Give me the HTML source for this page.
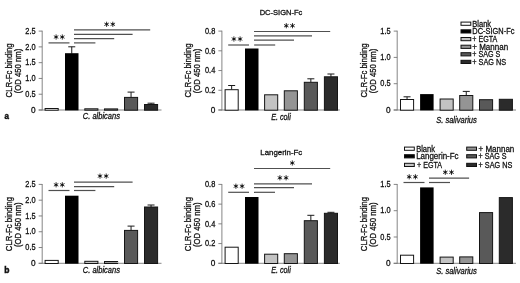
<!DOCTYPE html>
<html><head><meta charset="utf-8"><title>Figure</title>
<style>
html,body{margin:0;padding:0;background:#fff;}
body{width:520px;height:283px;overflow:hidden;}
svg{display:block;font-family:"Liberation Sans",sans-serif;filter:grayscale(1);}
</style></head><body>
<svg width="520" height="283" viewBox="0 0 520 283">
<rect width="520" height="283" fill="#fff"/>
<line x1="42.2" y1="30.700000000000003" x2="42.2" y2="110.4" stroke="#707070" stroke-width="0.85"/>
<line x1="38.7" y1="110.0" x2="161.5" y2="110.0" stroke="#707070" stroke-width="0.85"/>
<line x1="38.7" y1="110.0" x2="42.2" y2="110.0" stroke="#707070" stroke-width="0.85"/>
<text x="35.6" y="112.75" font-size="8.8" text-anchor="end" textLength="4.6" lengthAdjust="spacingAndGlyphs" fill="#111" stroke="#111" stroke-width="0.3">0</text>
<line x1="38.7" y1="94.22" x2="42.2" y2="94.22" stroke="#707070" stroke-width="0.85"/>
<text x="35.6" y="96.97" font-size="8.8" text-anchor="end" textLength="10.3" lengthAdjust="spacingAndGlyphs" fill="#111" stroke="#111" stroke-width="0.3">0.5</text>
<line x1="38.7" y1="78.44" x2="42.2" y2="78.44" stroke="#707070" stroke-width="0.85"/>
<text x="35.6" y="81.19" font-size="8.8" text-anchor="end" textLength="10.3" lengthAdjust="spacingAndGlyphs" fill="#111" stroke="#111" stroke-width="0.3">1.0</text>
<line x1="38.7" y1="62.66" x2="42.2" y2="62.66" stroke="#707070" stroke-width="0.85"/>
<text x="35.6" y="65.41" font-size="8.8" text-anchor="end" textLength="10.3" lengthAdjust="spacingAndGlyphs" fill="#111" stroke="#111" stroke-width="0.3">1.5</text>
<line x1="38.7" y1="46.879999999999995" x2="42.2" y2="46.879999999999995" stroke="#707070" stroke-width="0.85"/>
<text x="35.6" y="49.629999999999995" font-size="8.8" text-anchor="end" textLength="10.3" lengthAdjust="spacingAndGlyphs" fill="#111" stroke="#111" stroke-width="0.3">2.0</text>
<line x1="38.7" y1="31.099999999999994" x2="42.2" y2="31.099999999999994" stroke="#707070" stroke-width="0.85"/>
<text x="35.6" y="33.849999999999994" font-size="8.8" text-anchor="end" textLength="10.3" lengthAdjust="spacingAndGlyphs" fill="#111" stroke="#111" stroke-width="0.3">2.5</text>
<rect x="45.1" y="108.5" width="13.1" height="1.7" fill="#ffffff" stroke="#151515" stroke-width="1"/>
<line x1="71.75" y1="46.8" x2="71.75" y2="53.7" stroke="#1a1a1a" stroke-width="1.0"/>
<line x1="68.25" y1="46.8" x2="75.25" y2="46.8" stroke="#1a1a1a" stroke-width="1.0"/>
<rect x="65.0" y="53.2" width="13.5" height="57.199999999999996" fill="#000"/>
<rect x="84.8" y="108.8" width="13.1" height="1.4000000000000028" fill="#c3c3c3" stroke="#151515" stroke-width="1"/>
<rect x="104.5" y="108.9" width="13.1" height="1.2999999999999943" fill="#949494" stroke="#151515" stroke-width="1"/>
<line x1="131.05" y1="92.1" x2="131.05" y2="97.4" stroke="#1a1a1a" stroke-width="1.0"/>
<line x1="127.55000000000001" y1="92.1" x2="134.55" y2="92.1" stroke="#1a1a1a" stroke-width="1.0"/>
<rect x="124.5" y="97.4" width="13.1" height="12.799999999999994" fill="#595959" stroke="#151515" stroke-width="1"/>
<line x1="151.05" y1="103.2" x2="151.05" y2="104.5" stroke="#1a1a1a" stroke-width="1.0"/>
<line x1="147.55" y1="103.2" x2="154.55" y2="103.2" stroke="#1a1a1a" stroke-width="1.0"/>
<rect x="144.5" y="104.5" width="13.1" height="5.7" fill="#2b2b2b" stroke="#151515" stroke-width="1"/>
<text x="101.4" y="119.0" font-size="9" text-anchor="middle" font-style="italic" textLength="37.2" lengthAdjust="spacingAndGlyphs" fill="#111" stroke="#111" stroke-width="0.3">C. albicans</text>
<text x="11.8" y="70.4" font-size="8.2" text-anchor="middle" transform="rotate(-90 11.8 70.4)" textLength="54.2" lengthAdjust="spacingAndGlyphs" fill="#111" stroke="#111" stroke-width="0.3">CLR-Fc binding</text>
<text x="20.700000000000003" y="71.0" font-size="8.2" text-anchor="middle" transform="rotate(-90 20.700000000000003 71.0)" textLength="44.5" lengthAdjust="spacingAndGlyphs" fill="#111" stroke="#111" stroke-width="0.3">(OD 450 nm)</text>
<line x1="221.9" y1="30.700000000000003" x2="221.9" y2="110.4" stroke="#707070" stroke-width="0.85"/>
<line x1="218.4" y1="110.0" x2="339.8" y2="110.0" stroke="#707070" stroke-width="0.85"/>
<line x1="218.4" y1="110.0" x2="221.9" y2="110.0" stroke="#707070" stroke-width="0.85"/>
<text x="215.3" y="112.75" font-size="8.8" text-anchor="end" textLength="4.6" lengthAdjust="spacingAndGlyphs" fill="#111" stroke="#111" stroke-width="0.3">0</text>
<line x1="218.4" y1="90.275" x2="221.9" y2="90.275" stroke="#707070" stroke-width="0.85"/>
<text x="215.3" y="93.025" font-size="8.8" text-anchor="end" textLength="10.3" lengthAdjust="spacingAndGlyphs" fill="#111" stroke="#111" stroke-width="0.3">0.2</text>
<line x1="218.4" y1="70.55" x2="221.9" y2="70.55" stroke="#707070" stroke-width="0.85"/>
<text x="215.3" y="73.3" font-size="8.8" text-anchor="end" textLength="10.3" lengthAdjust="spacingAndGlyphs" fill="#111" stroke="#111" stroke-width="0.3">0.4</text>
<line x1="218.4" y1="50.824999999999996" x2="221.9" y2="50.824999999999996" stroke="#707070" stroke-width="0.85"/>
<text x="215.3" y="53.574999999999996" font-size="8.8" text-anchor="end" textLength="10.3" lengthAdjust="spacingAndGlyphs" fill="#111" stroke="#111" stroke-width="0.3">0.6</text>
<line x1="218.4" y1="31.099999999999994" x2="221.9" y2="31.099999999999994" stroke="#707070" stroke-width="0.85"/>
<text x="215.3" y="33.849999999999994" font-size="8.8" text-anchor="end" textLength="10.3" lengthAdjust="spacingAndGlyphs" fill="#111" stroke="#111" stroke-width="0.3">0.8</text>
<line x1="231.65" y1="85.5" x2="231.65" y2="89.7" stroke="#1a1a1a" stroke-width="1.0"/>
<line x1="228.15" y1="85.5" x2="235.15" y2="85.5" stroke="#1a1a1a" stroke-width="1.0"/>
<rect x="225.1" y="89.7" width="13.1" height="20.499999999999996" fill="#ffffff" stroke="#151515" stroke-width="1"/>
<rect x="245.0" y="48.5" width="13.5" height="61.9" fill="#000"/>
<rect x="264.6" y="94.8" width="13.1" height="15.400000000000002" fill="#c3c3c3" stroke="#151515" stroke-width="1"/>
<rect x="284.3" y="90.8" width="13.1" height="19.400000000000002" fill="#949494" stroke="#151515" stroke-width="1"/>
<line x1="310.85" y1="78.8" x2="310.85" y2="82.3" stroke="#1a1a1a" stroke-width="1.0"/>
<line x1="307.35" y1="78.8" x2="314.35" y2="78.8" stroke="#1a1a1a" stroke-width="1.0"/>
<rect x="304.3" y="82.3" width="13.1" height="27.900000000000002" fill="#595959" stroke="#151515" stroke-width="1"/>
<line x1="330.95" y1="74.0" x2="330.95" y2="76.8" stroke="#1a1a1a" stroke-width="1.0"/>
<line x1="327.45" y1="74.0" x2="334.45" y2="74.0" stroke="#1a1a1a" stroke-width="1.0"/>
<rect x="324.4" y="76.8" width="13.1" height="33.400000000000006" fill="#2b2b2b" stroke="#151515" stroke-width="1"/>
<text x="281.0" y="119.8" font-size="9" text-anchor="middle" font-style="italic" textLength="19.6" lengthAdjust="spacingAndGlyphs" fill="#111" stroke="#111" stroke-width="0.3">E. coli</text>
<text x="191.5" y="70.4" font-size="8.2" text-anchor="middle" transform="rotate(-90 191.5 70.4)" textLength="54.2" lengthAdjust="spacingAndGlyphs" fill="#111" stroke="#111" stroke-width="0.3">CLR-Fc binding</text>
<text x="200.39999999999998" y="71.0" font-size="8.2" text-anchor="middle" transform="rotate(-90 200.39999999999998 71.0)" textLength="44.5" lengthAdjust="spacingAndGlyphs" fill="#111" stroke="#111" stroke-width="0.3">(OD 450 nm)</text>
<line x1="397.2" y1="30.700000000000003" x2="397.2" y2="110.4" stroke="#707070" stroke-width="0.85"/>
<line x1="393.7" y1="110.0" x2="516.0" y2="110.0" stroke="#707070" stroke-width="0.85"/>
<line x1="393.7" y1="110.0" x2="397.2" y2="110.0" stroke="#707070" stroke-width="0.85"/>
<text x="390.59999999999997" y="112.75" font-size="8.8" text-anchor="end" textLength="4.6" lengthAdjust="spacingAndGlyphs" fill="#111" stroke="#111" stroke-width="0.3">0</text>
<line x1="393.7" y1="83.7" x2="397.2" y2="83.7" stroke="#707070" stroke-width="0.85"/>
<text x="390.59999999999997" y="86.45" font-size="8.8" text-anchor="end" textLength="10.3" lengthAdjust="spacingAndGlyphs" fill="#111" stroke="#111" stroke-width="0.3">0.5</text>
<line x1="393.7" y1="57.4" x2="397.2" y2="57.4" stroke="#707070" stroke-width="0.85"/>
<text x="390.59999999999997" y="60.15" font-size="8.8" text-anchor="end" textLength="10.3" lengthAdjust="spacingAndGlyphs" fill="#111" stroke="#111" stroke-width="0.3">1.0</text>
<line x1="393.7" y1="31.099999999999994" x2="397.2" y2="31.099999999999994" stroke="#707070" stroke-width="0.85"/>
<text x="390.59999999999997" y="33.849999999999994" font-size="8.8" text-anchor="end" textLength="10.3" lengthAdjust="spacingAndGlyphs" fill="#111" stroke="#111" stroke-width="0.3">1.5</text>
<line x1="407.05" y1="96.8" x2="407.05" y2="99.5" stroke="#1a1a1a" stroke-width="1.0"/>
<line x1="403.55" y1="96.8" x2="410.55" y2="96.8" stroke="#1a1a1a" stroke-width="1.0"/>
<rect x="400.5" y="99.5" width="13.1" height="10.7" fill="#ffffff" stroke="#151515" stroke-width="1"/>
<rect x="420.1" y="94.1" width="13.5" height="16.300000000000004" fill="#000"/>
<rect x="440.1" y="99.0" width="13.1" height="11.2" fill="#c3c3c3" stroke="#151515" stroke-width="1"/>
<line x1="466.25" y1="91.4" x2="466.25" y2="95.5" stroke="#1a1a1a" stroke-width="1.0"/>
<line x1="462.75" y1="91.4" x2="469.75" y2="91.4" stroke="#1a1a1a" stroke-width="1.0"/>
<rect x="459.7" y="95.5" width="13.1" height="14.7" fill="#949494" stroke="#151515" stroke-width="1"/>
<rect x="479.5" y="99.7" width="13.1" height="10.499999999999996" fill="#595959" stroke="#151515" stroke-width="1"/>
<rect x="499.3" y="99.3" width="13.1" height="10.900000000000002" fill="#2b2b2b" stroke="#151515" stroke-width="1"/>
<text x="456.5" y="122.5" font-size="9" text-anchor="middle" font-style="italic" textLength="40.6" lengthAdjust="spacingAndGlyphs" fill="#111" stroke="#111" stroke-width="0.3">S. salivarius</text>
<text x="366.8" y="70.4" font-size="8.2" text-anchor="middle" transform="rotate(-90 366.8 70.4)" textLength="54.2" lengthAdjust="spacingAndGlyphs" fill="#111" stroke="#111" stroke-width="0.3">CLR-Fc binding</text>
<text x="375.70000000000005" y="71.0" font-size="8.2" text-anchor="middle" transform="rotate(-90 375.70000000000005 71.0)" textLength="44.5" lengthAdjust="spacingAndGlyphs" fill="#111" stroke="#111" stroke-width="0.3">(OD 450 nm)</text>
<line x1="42.2" y1="184.0" x2="42.2" y2="263.7" stroke="#707070" stroke-width="0.85"/>
<line x1="38.7" y1="263.3" x2="161.5" y2="263.3" stroke="#707070" stroke-width="0.85"/>
<line x1="38.7" y1="263.3" x2="42.2" y2="263.3" stroke="#707070" stroke-width="0.85"/>
<text x="35.6" y="266.05" font-size="8.8" text-anchor="end" textLength="4.6" lengthAdjust="spacingAndGlyphs" fill="#111" stroke="#111" stroke-width="0.3">0</text>
<line x1="38.7" y1="247.52" x2="42.2" y2="247.52" stroke="#707070" stroke-width="0.85"/>
<text x="35.6" y="250.27" font-size="8.8" text-anchor="end" textLength="10.3" lengthAdjust="spacingAndGlyphs" fill="#111" stroke="#111" stroke-width="0.3">0.5</text>
<line x1="38.7" y1="231.74" x2="42.2" y2="231.74" stroke="#707070" stroke-width="0.85"/>
<text x="35.6" y="234.49" font-size="8.8" text-anchor="end" textLength="10.3" lengthAdjust="spacingAndGlyphs" fill="#111" stroke="#111" stroke-width="0.3">1.0</text>
<line x1="38.7" y1="215.96" x2="42.2" y2="215.96" stroke="#707070" stroke-width="0.85"/>
<text x="35.6" y="218.71" font-size="8.8" text-anchor="end" textLength="10.3" lengthAdjust="spacingAndGlyphs" fill="#111" stroke="#111" stroke-width="0.3">1.5</text>
<line x1="38.7" y1="200.18" x2="42.2" y2="200.18" stroke="#707070" stroke-width="0.85"/>
<text x="35.6" y="202.93" font-size="8.8" text-anchor="end" textLength="10.3" lengthAdjust="spacingAndGlyphs" fill="#111" stroke="#111" stroke-width="0.3">2.0</text>
<line x1="38.7" y1="184.4" x2="42.2" y2="184.4" stroke="#707070" stroke-width="0.85"/>
<text x="35.6" y="187.15" font-size="8.8" text-anchor="end" textLength="10.3" lengthAdjust="spacingAndGlyphs" fill="#111" stroke="#111" stroke-width="0.3">2.5</text>
<rect x="45.1" y="260.4" width="13.1" height="3.1000000000000343" fill="#ffffff" stroke="#151515" stroke-width="1"/>
<rect x="65.0" y="195.7" width="13.5" height="68.00000000000003" fill="#000"/>
<rect x="84.8" y="261.3" width="13.1" height="2.2" fill="#c3c3c3" stroke="#151515" stroke-width="1"/>
<rect x="104.5" y="261.5" width="13.1" height="2.0000000000000115" fill="#949494" stroke="#151515" stroke-width="1"/>
<line x1="131.05" y1="226.1" x2="131.05" y2="230.4" stroke="#1a1a1a" stroke-width="1.0"/>
<line x1="127.55000000000001" y1="226.1" x2="134.55" y2="226.1" stroke="#1a1a1a" stroke-width="1.0"/>
<rect x="124.5" y="230.4" width="13.1" height="33.10000000000001" fill="#595959" stroke="#151515" stroke-width="1"/>
<line x1="151.05" y1="205" x2="151.05" y2="207.0" stroke="#1a1a1a" stroke-width="1.0"/>
<line x1="147.55" y1="205" x2="154.55" y2="205" stroke="#1a1a1a" stroke-width="1.0"/>
<rect x="144.5" y="207.0" width="13.1" height="56.500000000000014" fill="#2b2b2b" stroke="#151515" stroke-width="1"/>
<text x="101.4" y="273.40000000000003" font-size="9" text-anchor="middle" font-style="italic" textLength="37.2" lengthAdjust="spacingAndGlyphs" fill="#111" stroke="#111" stroke-width="0.3">C. albicans</text>
<text x="11.8" y="224.1" font-size="8.2" text-anchor="middle" transform="rotate(-90 11.8 224.1)" textLength="54.2" lengthAdjust="spacingAndGlyphs" fill="#111" stroke="#111" stroke-width="0.3">CLR-Fc binding</text>
<text x="20.700000000000003" y="224.7" font-size="8.2" text-anchor="middle" transform="rotate(-90 20.700000000000003 224.7)" textLength="44.5" lengthAdjust="spacingAndGlyphs" fill="#111" stroke="#111" stroke-width="0.3">(OD 450 nm)</text>
<line x1="221.9" y1="184.0" x2="221.9" y2="263.7" stroke="#707070" stroke-width="0.85"/>
<line x1="218.4" y1="263.3" x2="339.8" y2="263.3" stroke="#707070" stroke-width="0.85"/>
<line x1="218.4" y1="263.3" x2="221.9" y2="263.3" stroke="#707070" stroke-width="0.85"/>
<text x="215.3" y="266.05" font-size="8.8" text-anchor="end" textLength="4.6" lengthAdjust="spacingAndGlyphs" fill="#111" stroke="#111" stroke-width="0.3">0</text>
<line x1="218.4" y1="243.57500000000002" x2="221.9" y2="243.57500000000002" stroke="#707070" stroke-width="0.85"/>
<text x="215.3" y="246.32500000000002" font-size="8.8" text-anchor="end" textLength="10.3" lengthAdjust="spacingAndGlyphs" fill="#111" stroke="#111" stroke-width="0.3">0.2</text>
<line x1="218.4" y1="223.85000000000002" x2="221.9" y2="223.85000000000002" stroke="#707070" stroke-width="0.85"/>
<text x="215.3" y="226.60000000000002" font-size="8.8" text-anchor="end" textLength="10.3" lengthAdjust="spacingAndGlyphs" fill="#111" stroke="#111" stroke-width="0.3">0.4</text>
<line x1="218.4" y1="204.125" x2="221.9" y2="204.125" stroke="#707070" stroke-width="0.85"/>
<text x="215.3" y="206.875" font-size="8.8" text-anchor="end" textLength="10.3" lengthAdjust="spacingAndGlyphs" fill="#111" stroke="#111" stroke-width="0.3">0.6</text>
<line x1="218.4" y1="184.4" x2="221.9" y2="184.4" stroke="#707070" stroke-width="0.85"/>
<text x="215.3" y="187.15" font-size="8.8" text-anchor="end" textLength="10.3" lengthAdjust="spacingAndGlyphs" fill="#111" stroke="#111" stroke-width="0.3">0.8</text>
<rect x="225.1" y="247.2" width="13.1" height="16.300000000000022" fill="#ffffff" stroke="#151515" stroke-width="1"/>
<rect x="245.0" y="197" width="13.5" height="66.70000000000002" fill="#000"/>
<rect x="264.6" y="254.2" width="13.1" height="9.300000000000022" fill="#c3c3c3" stroke="#151515" stroke-width="1"/>
<rect x="284.3" y="253.7" width="13.1" height="9.800000000000022" fill="#949494" stroke="#151515" stroke-width="1"/>
<line x1="310.85" y1="215.3" x2="310.85" y2="220.7" stroke="#1a1a1a" stroke-width="1.0"/>
<line x1="307.35" y1="215.3" x2="314.35" y2="215.3" stroke="#1a1a1a" stroke-width="1.0"/>
<rect x="304.3" y="220.7" width="13.1" height="42.800000000000026" fill="#595959" stroke="#151515" stroke-width="1"/>
<line x1="330.95" y1="212.3" x2="330.95" y2="213.3" stroke="#1a1a1a" stroke-width="1.0"/>
<line x1="327.45" y1="212.3" x2="334.45" y2="212.3" stroke="#1a1a1a" stroke-width="1.0"/>
<rect x="324.4" y="213.3" width="13.1" height="50.2" fill="#2b2b2b" stroke="#151515" stroke-width="1"/>
<text x="281.0" y="273.2" font-size="9" text-anchor="middle" font-style="italic" textLength="19.6" lengthAdjust="spacingAndGlyphs" fill="#111" stroke="#111" stroke-width="0.3">E. coli</text>
<text x="191.5" y="224.1" font-size="8.2" text-anchor="middle" transform="rotate(-90 191.5 224.1)" textLength="54.2" lengthAdjust="spacingAndGlyphs" fill="#111" stroke="#111" stroke-width="0.3">CLR-Fc binding</text>
<text x="200.39999999999998" y="224.7" font-size="8.2" text-anchor="middle" transform="rotate(-90 200.39999999999998 224.7)" textLength="44.5" lengthAdjust="spacingAndGlyphs" fill="#111" stroke="#111" stroke-width="0.3">(OD 450 nm)</text>
<line x1="397.2" y1="184.0" x2="397.2" y2="263.7" stroke="#707070" stroke-width="0.85"/>
<line x1="393.7" y1="263.3" x2="516.0" y2="263.3" stroke="#707070" stroke-width="0.85"/>
<line x1="393.7" y1="263.3" x2="397.2" y2="263.3" stroke="#707070" stroke-width="0.85"/>
<text x="390.59999999999997" y="266.05" font-size="8.8" text-anchor="end" textLength="4.6" lengthAdjust="spacingAndGlyphs" fill="#111" stroke="#111" stroke-width="0.3">0</text>
<line x1="393.7" y1="237.0" x2="397.2" y2="237.0" stroke="#707070" stroke-width="0.85"/>
<text x="390.59999999999997" y="239.75" font-size="8.8" text-anchor="end" textLength="10.3" lengthAdjust="spacingAndGlyphs" fill="#111" stroke="#111" stroke-width="0.3">0.5</text>
<line x1="393.7" y1="210.70000000000002" x2="397.2" y2="210.70000000000002" stroke="#707070" stroke-width="0.85"/>
<text x="390.59999999999997" y="213.45000000000002" font-size="8.8" text-anchor="end" textLength="10.3" lengthAdjust="spacingAndGlyphs" fill="#111" stroke="#111" stroke-width="0.3">1.0</text>
<line x1="393.7" y1="184.4" x2="397.2" y2="184.4" stroke="#707070" stroke-width="0.85"/>
<text x="390.59999999999997" y="187.15" font-size="8.8" text-anchor="end" textLength="10.3" lengthAdjust="spacingAndGlyphs" fill="#111" stroke="#111" stroke-width="0.3">1.5</text>
<rect x="400.5" y="255.2" width="13.1" height="8.300000000000022" fill="#ffffff" stroke="#151515" stroke-width="1"/>
<rect x="420.1" y="187.4" width="13.5" height="76.30000000000001" fill="#000"/>
<rect x="440.1" y="257.1" width="13.1" height="6.399999999999989" fill="#c3c3c3" stroke="#151515" stroke-width="1"/>
<rect x="459.7" y="256.9" width="13.1" height="6.600000000000034" fill="#949494" stroke="#151515" stroke-width="1"/>
<rect x="479.5" y="212.6" width="13.1" height="50.90000000000002" fill="#595959" stroke="#151515" stroke-width="1"/>
<rect x="499.3" y="197.6" width="13.1" height="65.90000000000002" fill="#2b2b2b" stroke="#151515" stroke-width="1"/>
<text x="456.5" y="273.5" font-size="9" text-anchor="middle" font-style="italic" textLength="40.6" lengthAdjust="spacingAndGlyphs" fill="#111" stroke="#111" stroke-width="0.3">S. salivarius</text>
<text x="366.8" y="224.1" font-size="8.2" text-anchor="middle" transform="rotate(-90 366.8 224.1)" textLength="54.2" lengthAdjust="spacingAndGlyphs" fill="#111" stroke="#111" stroke-width="0.3">CLR-Fc binding</text>
<text x="375.70000000000005" y="224.7" font-size="8.2" text-anchor="middle" transform="rotate(-90 375.70000000000005 224.7)" textLength="44.5" lengthAdjust="spacingAndGlyphs" fill="#111" stroke="#111" stroke-width="0.3">(OD 450 nm)</text>
<line x1="48.5" y1="42.9" x2="69.5" y2="42.9" stroke="#505050" stroke-width="1.2"/>
<line x1="74" y1="42.9" x2="95.4" y2="42.9" stroke="#505050" stroke-width="1.2"/>
<line x1="74" y1="38.6" x2="114.2" y2="38.6" stroke="#505050" stroke-width="1.2"/>
<line x1="74" y1="34.3" x2="132.6" y2="34.3" stroke="#505050" stroke-width="1.2"/>
<line x1="74" y1="29.8" x2="150.2" y2="29.8" stroke="#505050" stroke-width="1.2"/>
<line x1="228.2" y1="45.0" x2="249" y2="45.0" stroke="#505050" stroke-width="1.2"/>
<line x1="254" y1="45.0" x2="275.2" y2="45.0" stroke="#505050" stroke-width="1.2"/>
<line x1="254" y1="40.2" x2="294" y2="40.2" stroke="#505050" stroke-width="1.2"/>
<line x1="254" y1="35.9" x2="312" y2="35.9" stroke="#505050" stroke-width="1.2"/>
<line x1="254" y1="31.5" x2="330.2" y2="31.5" stroke="#505050" stroke-width="1.2"/>
<line x1="48.5" y1="190.5" x2="69.5" y2="190.5" stroke="#505050" stroke-width="1.2"/>
<line x1="74" y1="190.5" x2="95.4" y2="190.5" stroke="#505050" stroke-width="1.2"/>
<line x1="74" y1="186.6" x2="114.2" y2="186.6" stroke="#505050" stroke-width="1.2"/>
<line x1="74" y1="182.2" x2="132.6" y2="182.2" stroke="#505050" stroke-width="1.2"/>
<line x1="228.2" y1="192.3" x2="249" y2="192.3" stroke="#505050" stroke-width="1.2"/>
<line x1="254" y1="192.3" x2="275" y2="192.3" stroke="#505050" stroke-width="1.2"/>
<line x1="254" y1="187.6" x2="294" y2="187.6" stroke="#505050" stroke-width="1.2"/>
<line x1="254" y1="183.8" x2="312" y2="183.8" stroke="#505050" stroke-width="1.2"/>
<line x1="254" y1="168.5" x2="330.2" y2="168.5" stroke="#505050" stroke-width="1.2"/>
<line x1="403.5" y1="182.5" x2="424.5" y2="182.5" stroke="#505050" stroke-width="1.2"/>
<line x1="429" y1="182.5" x2="450" y2="182.5" stroke="#505050" stroke-width="1.2"/>
<line x1="429" y1="178.1" x2="469.1" y2="178.1" stroke="#505050" stroke-width="1.2"/>
<path d="M56.10 34.40L56.10 39.60M53.85 35.70L58.35 38.30M58.35 35.70L53.85 38.30" stroke="#111" stroke-width="0.85" fill="none"/>
<circle cx="56.1" cy="37" r="1.0" fill="#111"/>
<path d="M62.30 34.40L62.30 39.60M60.05 35.70L64.55 38.30M64.55 35.70L60.05 38.30" stroke="#111" stroke-width="0.85" fill="none"/>
<circle cx="62.300000000000004" cy="37" r="1.0" fill="#111"/>
<path d="M106.60 21.70L106.60 26.90M104.35 23.00L108.85 25.60M108.85 23.00L104.35 25.60" stroke="#111" stroke-width="0.85" fill="none"/>
<circle cx="106.60000000000001" cy="24.3" r="1.0" fill="#111"/>
<path d="M112.80 21.70L112.80 26.90M110.55 23.00L115.05 25.60M115.05 23.00L110.55 25.60" stroke="#111" stroke-width="0.85" fill="none"/>
<circle cx="112.8" cy="24.3" r="1.0" fill="#111"/>
<path d="M233.90 36.40L233.90 41.60M231.65 37.70L236.15 40.30M236.15 37.70L231.65 40.30" stroke="#111" stroke-width="0.85" fill="none"/>
<circle cx="233.9" cy="39" r="1.0" fill="#111"/>
<path d="M240.10 36.40L240.10 41.60M237.85 37.70L242.35 40.30M242.35 37.70L237.85 40.30" stroke="#111" stroke-width="0.85" fill="none"/>
<circle cx="240.1" cy="39" r="1.0" fill="#111"/>
<path d="M286.30 23.10L286.30 28.30M284.05 24.40L288.55 27.00M288.55 24.40L284.05 27.00" stroke="#111" stroke-width="0.85" fill="none"/>
<circle cx="286.29999999999995" cy="25.7" r="1.0" fill="#111"/>
<path d="M292.50 23.10L292.50 28.30M290.25 24.40L294.75 27.00M294.75 24.40L290.25 27.00" stroke="#111" stroke-width="0.85" fill="none"/>
<circle cx="292.5" cy="25.7" r="1.0" fill="#111"/>
<path d="M56.10 182.20L56.10 187.40M53.85 183.50L58.35 186.10M58.35 183.50L53.85 186.10" stroke="#111" stroke-width="0.85" fill="none"/>
<circle cx="56.1" cy="184.8" r="1.0" fill="#111"/>
<path d="M62.30 182.20L62.30 187.40M60.05 183.50L64.55 186.10M64.55 183.50L60.05 186.10" stroke="#111" stroke-width="0.85" fill="none"/>
<circle cx="62.300000000000004" cy="184.8" r="1.0" fill="#111"/>
<path d="M100.00 173.50L100.00 178.70M97.75 174.80L102.25 177.40M102.25 174.80L97.75 177.40" stroke="#111" stroke-width="0.85" fill="none"/>
<circle cx="100.0" cy="176.1" r="1.0" fill="#111"/>
<path d="M106.20 173.50L106.20 178.70M103.95 174.80L108.45 177.40M108.45 174.80L103.95 177.40" stroke="#111" stroke-width="0.85" fill="none"/>
<circle cx="106.19999999999999" cy="176.1" r="1.0" fill="#111"/>
<path d="M235.90 183.60L235.90 188.80M233.65 184.90L238.15 187.50M238.15 184.90L233.65 187.50" stroke="#111" stroke-width="0.85" fill="none"/>
<circle cx="235.9" cy="186.2" r="1.0" fill="#111"/>
<path d="M242.10 183.60L242.10 188.80M239.85 184.90L244.35 187.50M244.35 184.90L239.85 187.50" stroke="#111" stroke-width="0.85" fill="none"/>
<circle cx="242.1" cy="186.2" r="1.0" fill="#111"/>
<path d="M279.90 175.20L279.90 180.40M277.65 176.50L282.15 179.10M282.15 176.50L277.65 179.10" stroke="#111" stroke-width="0.85" fill="none"/>
<circle cx="279.9" cy="177.8" r="1.0" fill="#111"/>
<path d="M286.10 175.20L286.10 180.40M283.85 176.50L288.35 179.10M288.35 176.50L283.85 179.10" stroke="#111" stroke-width="0.85" fill="none"/>
<circle cx="286.1" cy="177.8" r="1.0" fill="#111"/>
<path d="M292.30 160.40L292.30 165.60M290.05 161.70L294.55 164.30M294.55 161.70L290.05 164.30" stroke="#111" stroke-width="0.85" fill="none"/>
<circle cx="292.3" cy="163" r="1.0" fill="#111"/>
<path d="M409.20 174.20L409.20 179.40M406.95 175.50L411.45 178.10M411.45 175.50L406.95 178.10" stroke="#111" stroke-width="0.85" fill="none"/>
<circle cx="409.2" cy="176.8" r="1.0" fill="#111"/>
<path d="M415.40 174.20L415.40 179.40M413.15 175.50L417.65 178.10M417.65 175.50L413.15 178.10" stroke="#111" stroke-width="0.85" fill="none"/>
<circle cx="415.40000000000003" cy="176.8" r="1.0" fill="#111"/>
<path d="M445.30 169.70L445.30 174.90M443.05 171.00L447.55 173.60M447.55 171.00L443.05 173.60" stroke="#111" stroke-width="0.85" fill="none"/>
<circle cx="445.29999999999995" cy="172.3" r="1.0" fill="#111"/>
<path d="M451.50 169.70L451.50 174.90M449.25 171.00L453.75 173.60M453.75 171.00L449.25 173.60" stroke="#111" stroke-width="0.85" fill="none"/>
<circle cx="451.5" cy="172.3" r="1.0" fill="#111"/>
<text x="281" y="15.0" font-size="8.0" text-anchor="middle" textLength="42.7" lengthAdjust="spacingAndGlyphs" fill="#111" stroke="#111" stroke-width="0.3">DC-SIGN-Fc</text>
<text x="281.3" y="154.8" font-size="8.0" text-anchor="middle" textLength="41.9" lengthAdjust="spacingAndGlyphs" fill="#111" stroke="#111" stroke-width="0.3">Langerin-Fc</text>
<text x="4.6" y="119.4" font-size="9.3" text-anchor="start" font-weight="bold" textLength="4.4" lengthAdjust="spacingAndGlyphs" fill="#111" stroke="#111" stroke-width="0.55">a</text>
<text x="4.2" y="273.0" font-size="9.3" text-anchor="start" font-weight="bold" textLength="5.2" lengthAdjust="spacingAndGlyphs" fill="#111" stroke="#111" stroke-width="0.5">b</text>
<rect x="461.0" y="22.099999999999998" width="9.8" height="3.2" fill="#ffffff" stroke="#111" stroke-width="1"/>
<text x="472.3" y="26.7" font-size="8.7" text-anchor="start" textLength="18.8" lengthAdjust="spacingAndGlyphs" fill="#111" stroke="#111" stroke-width="0.3">Blank</text>
<rect x="461.0" y="29.799999999999997" width="9.8" height="3.2" fill="#000000" stroke="#111" stroke-width="1"/>
<text x="472.3" y="34.4" font-size="8.7" text-anchor="start" textLength="42.1" lengthAdjust="spacingAndGlyphs" fill="#111" stroke="#111" stroke-width="0.3">DC-SIGN-Fc</text>
<rect x="461.0" y="37.5" width="9.8" height="3.2" fill="#c3c3c3" stroke="#111" stroke-width="1"/>
<text x="472.3" y="42.1" font-size="8.7" text-anchor="start" textLength="25.0" lengthAdjust="spacingAndGlyphs" fill="#111" stroke="#111" stroke-width="0.3">+ EGTA</text>
<rect x="461.0" y="45.199999999999996" width="9.8" height="3.2" fill="#949494" stroke="#111" stroke-width="1"/>
<text x="472.3" y="49.8" font-size="8.7" text-anchor="start" textLength="35.8" lengthAdjust="spacingAndGlyphs" fill="#111" stroke="#111" stroke-width="0.3">+ Mannan</text>
<rect x="461.0" y="52.699999999999996" width="9.8" height="3.2" fill="#595959" stroke="#111" stroke-width="1"/>
<text x="472.3" y="57.3" font-size="8.7" text-anchor="start" textLength="28.0" lengthAdjust="spacingAndGlyphs" fill="#111" stroke="#111" stroke-width="0.3">+ SAG S</text>
<rect x="461.0" y="60.3" width="9.8" height="3.2" fill="#2b2b2b" stroke="#111" stroke-width="1"/>
<text x="472.3" y="64.9" font-size="8.7" text-anchor="start" textLength="33.8" lengthAdjust="spacingAndGlyphs" fill="#111" stroke="#111" stroke-width="0.3">+ SAG NS</text>
<rect x="404.5" y="147.1" width="9.8" height="3.2" fill="#ffffff" stroke="#111" stroke-width="1"/>
<text x="416.2" y="151.7" font-size="8.7" text-anchor="start" textLength="18.8" lengthAdjust="spacingAndGlyphs" fill="#111" stroke="#111" stroke-width="0.3">Blank</text>
<rect x="404.5" y="154.70000000000002" width="9.8" height="3.2" fill="#000000" stroke="#111" stroke-width="1"/>
<text x="416.2" y="159.3" font-size="8.7" text-anchor="start" textLength="42.4" lengthAdjust="spacingAndGlyphs" fill="#111" stroke="#111" stroke-width="0.3">Langerin-Fc</text>
<rect x="404.5" y="163.3" width="9.8" height="3.2" fill="#c3c3c3" stroke="#111" stroke-width="1"/>
<text x="417.09999999999997" y="167.9" font-size="8.7" text-anchor="start" textLength="25.0" lengthAdjust="spacingAndGlyphs" fill="#111" stroke="#111" stroke-width="0.3">+ EGTA</text>
<rect x="466.7" y="147.1" width="9.8" height="3.2" fill="#949494" stroke="#111" stroke-width="1"/>
<text x="478.5" y="151.7" font-size="8.7" text-anchor="start" textLength="35.8" lengthAdjust="spacingAndGlyphs" fill="#111" stroke="#111" stroke-width="0.3">+ Mannan</text>
<rect x="466.7" y="154.70000000000002" width="9.8" height="3.2" fill="#595959" stroke="#111" stroke-width="1"/>
<text x="478.5" y="159.3" font-size="8.7" text-anchor="start" textLength="28.0" lengthAdjust="spacingAndGlyphs" fill="#111" stroke="#111" stroke-width="0.3">+ SAG S</text>
<rect x="466.7" y="163.3" width="9.8" height="3.2" fill="#2b2b2b" stroke="#111" stroke-width="1"/>
<text x="478.5" y="167.9" font-size="8.7" text-anchor="start" textLength="33.8" lengthAdjust="spacingAndGlyphs" fill="#111" stroke="#111" stroke-width="0.3">+ SAG NS</text>
</svg>
</body></html>
